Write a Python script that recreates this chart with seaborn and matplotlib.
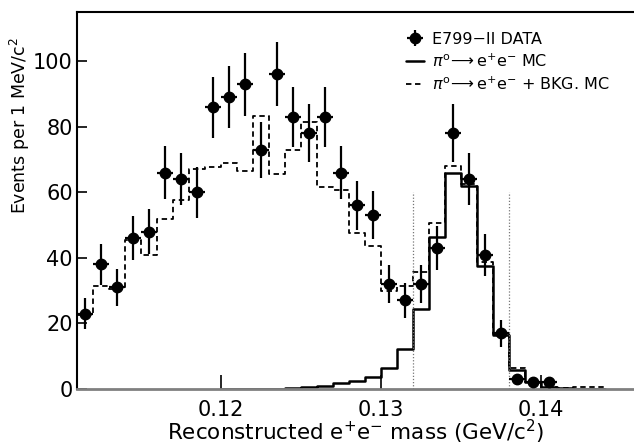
import numpy as np
import pandas as pd
import matplotlib
matplotlib.use("Agg")
import matplotlib.pyplot as plt
import seaborn as sns
from matplotlib.lines import Line2D

# -----------------------------
# Data
# -----------------------------
# measured points, 1 MeV bins centred on x.xxx5 GeV
data_mass = [0.1115, 0.1125, 0.1135, 0.1145, 0.1155, 0.1165, 0.1175, 0.1185,
             0.1195, 0.1205, 0.1215, 0.1225, 0.1235, 0.1245, 0.1255, 0.1265,
             0.1275, 0.1285, 0.1295, 0.1305, 0.1315, 0.1325, 0.1335, 0.1345,
             0.1355, 0.1365, 0.1375, 0.1385, 0.1395, 0.1405]
data_counts = [23, 38, 31, 46, 48, 66, 64, 60, 86, 89, 93, 73, 96, 83, 78, 83,
               66, 56, 53, 32, 27, 32, 43, 78, 64, 41, 17, 3, 2, 2]
data_err = [4.8, 6.2, 5.6, 6.8, 6.9, 8.1, 8.0, 7.7, 9.3, 9.4, 9.6, 8.5, 9.8, 9.1,
            8.8, 9.1, 8.1, 7.5, 7.3, 5.7, 5.2, 5.7, 6.6, 8.8, 8.0, 6.4, 4.1, 1.7,
            1.4, 1.4]

# pi0 -> ee + background MC (dashed histogram), bin edges
bkg_edges = [0.111, 0.112, 0.113, 0.114, 0.115, 0.116, 0.117, 0.118, 0.119,
             0.120, 0.121, 0.122, 0.123, 0.124, 0.125, 0.126, 0.127, 0.128,
             0.129, 0.130, 0.131, 0.132, 0.133, 0.134, 0.135, 0.136, 0.137,
             0.138, 0.139, 0.140, 0.141, 0.142, 0.143, 0.144]
bkg_counts = [22.5, 31.3, 30.4, 45.6, 40.9, 51.8, 57.8, 67.2, 67.8, 69.0, 66.6,
              83.3, 65.5, 72.8, 81.3, 61.7, 60.8, 47.5, 43.7, 29.9, 31.3, 35.6,
              50.6, 68.1, 62.6, 38.8, 16.8, 6.3, 2.2, 0.7, 0.3, 0.7, 0.7]

# pi0 -> ee signal MC (solid histogram)
sig_edges = [0.120, 0.121, 0.122, 0.123, 0.124, 0.125, 0.126, 0.127, 0.128,
             0.129, 0.130, 0.131, 0.132, 0.133, 0.134, 0.135, 0.136, 0.137,
             0.138, 0.139, 0.140, 0.141, 0.142, 0.143, 0.144]
sig_counts = [0.0, 0.05, 0.05, 0.1, 0.3, 0.6, 1.0, 1.8, 2.3, 3.6, 6.3, 12.1,
              24.3, 46.4, 66.0, 62.0, 37.6, 16.6, 5.8, 2.2, 0.7, 0.3, 0.15, 0.15]

# signal window cuts
cut_lines = [0.132, 0.138]
cut_height = 60

legend_labels = [
    "E799\u2212II DATA",
    r"$\pi^{\mathrm{o}}\!\longrightarrow\mathrm{e}^{+}\mathrm{e}^{-}$ MC",
    r"$\pi^{\mathrm{o}}\!\longrightarrow\mathrm{e}^{+}\mathrm{e}^{-}$ + BKG. MC",
]

# -----------------------------
# Style
# -----------------------------
sns.set_style("ticks")
plt.rcParams["font.family"] = ["DejaVu Sans"]
plt.rcParams["mathtext.fontset"] = "dejavusans"
for key in ["text.color", "axes.labelcolor", "xtick.color", "ytick.color"]:
    plt.rcParams[key] = "black"

fig = plt.figure(figsize=(6.34, 4.47), dpi=100)
ax = fig.add_axes([77 / 634, 58 / 447, 557 / 634, 377 / 447])

bkg_df = pd.DataFrame({"x": np.array(bkg_edges[:-1]) + 0.0005, "w": bkg_counts})
sig_df = pd.DataFrame({"x": np.array(sig_edges[:-1]) + 0.0005, "w": sig_counts})

sns.histplot(data=bkg_df, x="x", weights="w", bins=bkg_edges, element="step",
             fill=False, color="black", linestyle=(0, (3, 2)), linewidth=1.3, ax=ax)
sns.histplot(data=sig_df, x="x", weights="w", bins=sig_edges, element="step",
             fill=False, color="black", linewidth=1.8, ax=ax)

ax.vlines(cut_lines, 0, cut_height, colors="#777777", linestyles=(0, (1, 1.5)),
          linewidth=0.9)

eb = ax.errorbar(data_mass, data_counts, yerr=data_err, xerr=0.0005, fmt="o",
                 color="black", markersize=7.5, elinewidth=1.6, capsize=0, zorder=5)

ax.set_xlim(0.111, 0.1458)
ax.set_ylim(0, 115)
ax.set_xticks([0.12, 0.13, 0.14])
ax.set_xticklabels(["0.12", "0.13", "0.14"])
ax.set_yticks([0, 20, 40, 60, 80, 100])
ax.tick_params(axis="x", direction="in", length=10, width=1.2, labelsize=15, pad=8,
               colors="black")
ax.tick_params(axis="y", direction="in", length=7, width=1.2, labelsize=15, pad=3,
               colors="black")

for side in ["left", "top"]:
    ax.spines[side].set_linewidth(1.5)
    ax.spines[side].set_color("black")
ax.spines["bottom"].set_linewidth(2)
ax.spines["bottom"].set_color("#808080")
ax.spines["right"].set_visible(False)

ax.set_xlabel(r"Reconstructed e$^{+}$e$^{-}$ mass (GeV/c$^{2}$)", fontsize=15.5,
              va="center", color="black")
ax.xaxis.set_label_coords(0.5, -0.115)
ax.set_ylabel(r"Events per 1 MeV/c$^{2}$", fontsize=12.5, va="center",
              color="black")
ax.yaxis.set_label_coords(-0.103, 0.70)

handles = [
    eb,
    Line2D([], [], color="black", linewidth=1.8),
    Line2D([], [], color="black", linewidth=1.3, linestyle=(0, (3, 2))),
]
ax.legend(handles, legend_labels, loc="upper left",
          bbox_to_anchor=(398 / 634, 1 - 24 / 447),
          bbox_transform=fig.transFigure, frameon=False, fontsize=11.5,
          handlelength=1.1, handletextpad=0.5, labelspacing=0.35, borderpad=0)

fig.savefig("out.png", dpi=100)
